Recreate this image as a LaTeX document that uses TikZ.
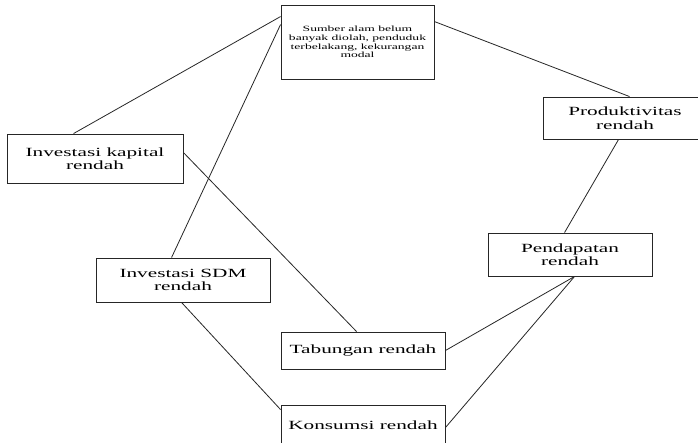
\documentclass[tikz,border=0pt]{standalone}
\usepackage{fontspec}
\setmainfont{Liberation Serif}[FakeStretch=1.7]
\usetikzlibrary{calc}
\begin{document}
\begin{tikzpicture}[x=1pt,y=-1pt,
  box/.style={draw=black!85,line width=0.9pt,rectangle,inner sep=0pt,align=center,
     font=\fontsize{12.5}{13.5}\selectfont},
  smallbox/.style={box,font=\fontsize{8}{8.6}\selectfont},
  link/.style={draw=black!85,line width=0.8pt}]
\useasboundingbox (0,0) rectangle (698,442);
\clip (0,0) rectangle (698,442);
\fill[white] (0,0) rectangle (698,442);
\node[smallbox,minimum width=153pt,minimum height=74pt] (S) at (357.5,42) {Sumber alam belum\\banyak diolah, penduduk\\terbelakang, kekurangan\\modal};
\node[box,minimum width=164pt,minimum height=42pt] (P) at (625,118) {Produktivitas\\rendah};
\node[box,minimum width=176pt,minimum height=49pt] (K) at (95,158.5) {Investasi kapital\\rendah};
\node[box,minimum width=164pt,minimum height=43pt] (D) at (570,254.5) {Pendapatan\\rendah};
\node[box,minimum width=174pt,minimum height=44pt] (M) at (183,280) {Investasi SDM\\rendah};
\node[box,minimum width=164pt,minimum height=37pt] (T) at (363,350.5) {Tabungan rendah};
\node[box,minimum width=164pt,minimum height=40pt] (C) at (363,425) {Konsumsi rendah};
\draw[link] ([yshift=-12pt]S.north west) -- ([xshift=67pt]K.north west);
\draw[link] ([yshift=-20pt]S.north west) -- ([xshift=76pt]M.north west);
\draw[link] ([yshift=-17pt]S.north east) -- ([xshift=87pt]P.north west);
\draw[link] ([xshift=76pt]P.south west) -- ([xshift=77pt]D.north west);
\draw[link] ([yshift=-19pt]K.north east) -- ([xshift=76pt]T.north west);
\draw[link] ([xshift=86pt]M.south west) -- ([yshift=-5pt]C.north west);
\draw[link] ([xshift=87pt]D.south west) -- (T.east);
\draw[link] ([xshift=87pt]D.south west) -- ([yshift=-23pt]C.north east);
\end{tikzpicture}
\end{document}
